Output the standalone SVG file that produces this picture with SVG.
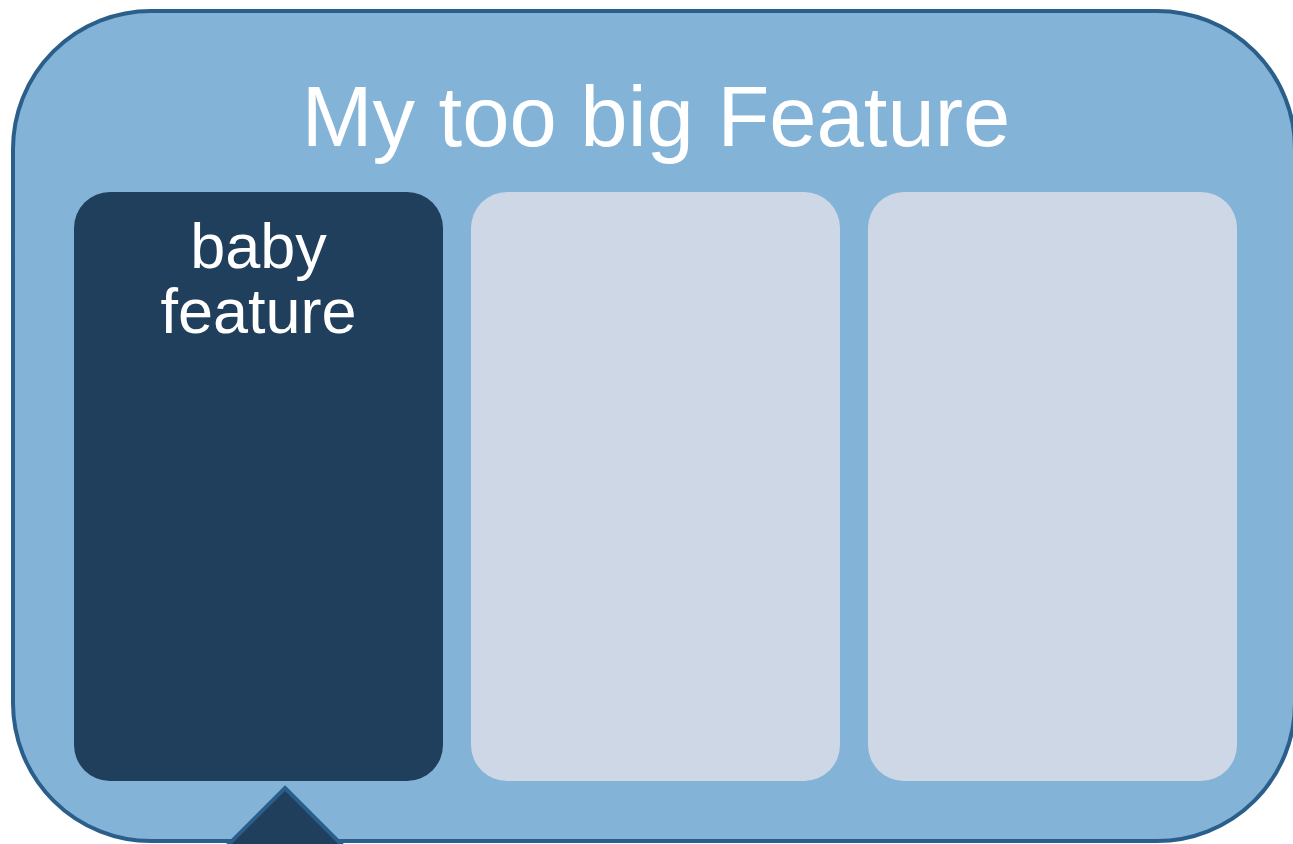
<svg xmlns="http://www.w3.org/2000/svg" width="1293" height="844" viewBox="0 0 1293 844">
<style>
.t{font-family:"Liberation Sans",Arial,sans-serif;fill:#ffffff;text-anchor:middle}
.light{fill:#cdd7e6}
</style>
<rect width="1293" height="844" fill="#ffffff"/>
<g id="big-feature">
<rect x="13" y="11" width="1282" height="830" rx="138" ry="138" fill="#84b3d8" stroke="#2b5f8b" stroke-width="4"/>
<text class="t" x="656" y="146" font-size="85">My too big Feature</text>
</g>
<g id="baby-feature">
<rect x="74" y="192" width="369" height="589" rx="36" ry="36" fill="#1f3f5c"/>
<text class="t" x="258.5" y="268" font-size="63">baby</text>
<text class="t" x="258.5" y="333" font-size="63">feature</text>
</g>
<g id="box-2">
<rect class="light" x="471" y="192" width="369" height="589" rx="36" ry="36"/>
</g>
<g id="box-3">
<rect class="light" x="868" y="192" width="369" height="589" rx="36" ry="36"/>
</g>
<g id="pointer">
<polygon points="285,788 345,848 225,848" fill="#1f3f5c" stroke="#2b5f8b" stroke-width="4"/>
</g>
</svg>
